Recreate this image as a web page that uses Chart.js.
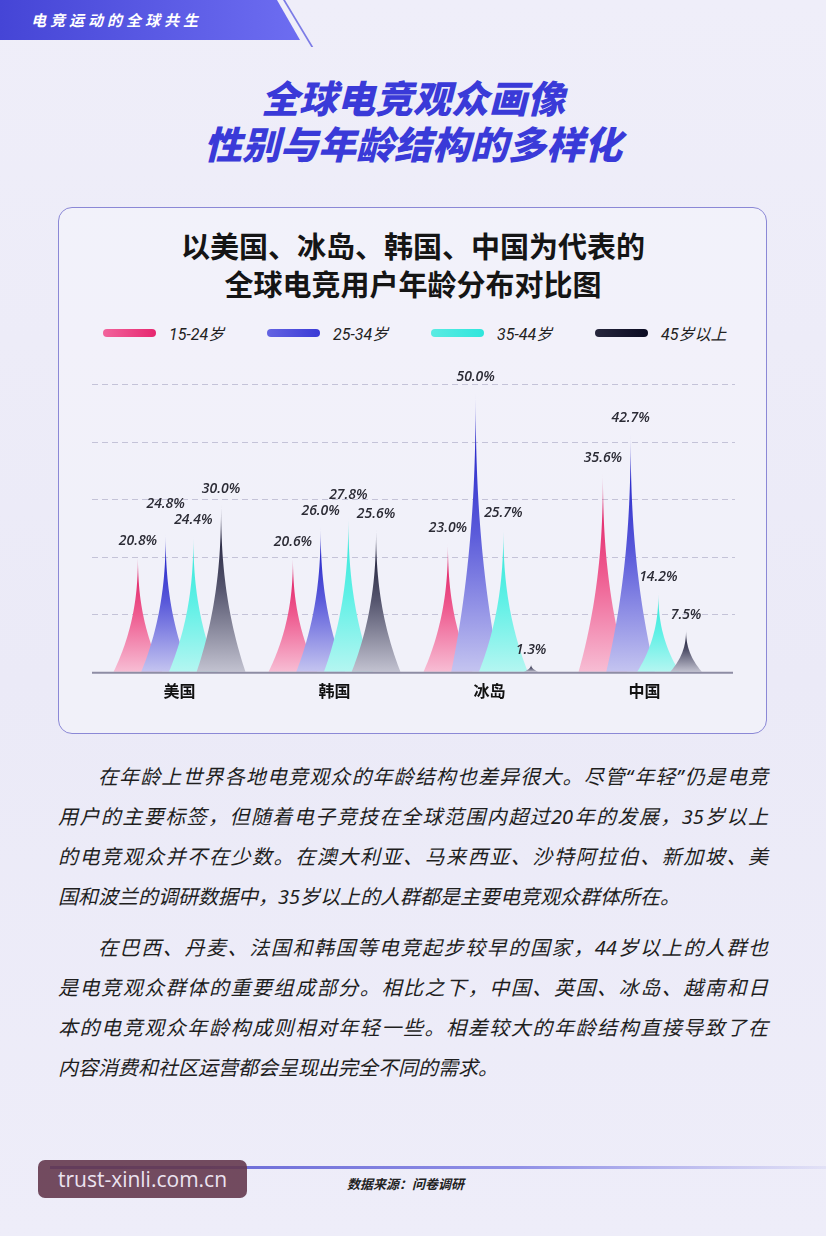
<!DOCTYPE html>
<html lang="zh-CN">
<head>
<meta charset="utf-8">
<script src="https://cdn.jsdelivr.net/npm/chart.js@4.4.0/dist/chart.umd.min.js"></script>
<style>
html, body { margin: 0; padding: 0; }
body {
    width: 826px; height: 1236px; position: relative; overflow: hidden;
    background: linear-gradient(180deg, #efeef9 0%, #ebeaf7 55%, #eeedf9 100%);
    font-family: "Noto Sans CJK SC", sans-serif;
}
.banner {
    position: absolute; left: 0; top: 0; width: 300px; height: 40px;
    background: linear-gradient(90deg, #4545d6, #6d6df1);
    clip-path: polygon(0 0, 277px 0, 300px 40px, 0 40px);
}
.banner span {
    position: absolute; left: 31px; top: 0; line-height: 40px;
    color: #fff; font-size: 15px; font-weight: 700; letter-spacing: 4px; font-style: italic;
}
.slash {
    position: absolute; left: 283px; top: 0; width: 2px; height: 47px;
    background: #7b7be6; transform: skewX(31deg); transform-origin: top left;
}
.title {
    position: absolute; left: 0; top: 74px; width: 826px; text-align: center;
    color: #3a3ad8; font-size: 38px; font-weight: 900; line-height: 46px; font-style: italic;
}
.card {
    position: absolute; left: 58px; top: 207px; width: 707px; height: 525px;
    border: 1.5px solid #8b88d6; border-radius: 14px; background: rgba(246, 245, 252, 0.55);
}
.card-title {
    position: absolute; left: 58px; top: 226px; width: 710px; text-align: center;
    color: #151515; font-size: 29px; font-weight: 700; line-height: 38px;
}
.legend { position: absolute; left: 103px; top: 322px; height: 22px; display: flex; }
.legend .item { width: 164px; display: flex; align-items: center; height: 22px; }
.legend .pill { width: 53px; height: 8px; border-radius: 4px; margin-right: 13px; }
.legend .txt { font-family: Roboto, "Noto Sans CJK SC", sans-serif; font-size: 16px; color: #222; font-style: italic; }
.chart-box { position: absolute; left: 58px; top: 360px; width: 710px; height: 360px; }
.para {
    position: absolute; left: 58px; width: 710px; font-size: 20px; color: #1e1e1e;
    font-family: "Noto Sans", "Noto Sans CJK SC", sans-serif; font-style: italic;
}
.para div { height: 40px; line-height: 40px; text-align: justify; text-align-last: justify; white-space: nowrap; }
.para div.first { text-indent: 2em; }
.para div.last { text-align-last: left; }
.footline {
    position: absolute; left: 50px; top: 1166px; width: 776px; height: 3px;
    background: linear-gradient(90deg, #5a5ad0, #8f8fe6 60%, rgba(200,200,240,0.3));
}
.mark {
    position: absolute; left: 38px; top: 1160px; width: 209px; height: 38px;
    background: rgba(100, 56, 78, 0.9); border-radius: 7px;
    color: #ebe3f0; font-family: "Open Sans", sans-serif; font-size: 21px; line-height: 38px; text-align: center;
}
.source {
    position: absolute; left: 347px; top: 1175px; font-size: 13px; font-weight: 700;
    font-style: italic; color: #222; line-height: 18px;
}
</style>
</head>
<body>
<div class="banner"><span>电竞运动的全球共生</span></div>
<div class="slash"></div>
<div class="title">全球电竞观众画像<br>性别与年龄结构的多样化</div>
<div class="card"></div>
<div class="card-title">以美国、冰岛、韩国、中国为代表的<br>全球电竞用户年龄分布对比图</div>
<div class="legend" id="legend"></div>
<div class="chart-box"><canvas id="ageChart" width="710" height="360"></canvas></div>

<div class="para" style="top:757px">
  <div class="first">在年龄上世界各地电竞观众的年龄结构也差异很大。尽管“年轻”仍是电竞</div>
  <div>用户的主要标签，但随着电子竞技在全球范围内超过20年的发展，35岁以上</div>
  <div>的电竞观众并不在少数。在澳大利亚、马来西亚、沙特阿拉伯、新加坡、美</div>
  <div class="last">国和波兰的调研数据中，35岁以上的人群都是主要电竞观众群体所在。</div>
</div>
<div class="para" style="top:928px">
  <div class="first">在巴西、丹麦、法国和韩国等电竞起步较早的国家，44岁以上的人群也</div>
  <div>是电竞观众群体的重要组成部分。相比之下，中国、英国、冰岛、越南和日</div>
  <div>本的电竞观众年龄构成则相对年轻一些。相差较大的年龄结构直接导致了在</div>
  <div class="last">内容消费和社区运营都会呈现出完全不同的需求。</div>
</div>

<div class="footline"></div>
<div class="mark">trust-xinli.com.cn</div>
<div class="source">数据来源：问卷调研</div>

<script>
const categories = ['美国', '韩国', '冰岛', '中国'];
const seriesNames = ['15-24岁', '25-34岁', '35-44岁', '45岁以上'];
const age15to24 = [20.8, 20.6, 23.0, 35.6];
const age25to34 = [24.8, 26.0, 50.0, 42.7];
const age35to44 = [24.4, 27.8, 25.7, 14.2];
const age45plus = [30.0, 25.6, 1.3, 7.5];

const legendColors = [
    ['#f2649c', '#e6276f'],
    ['#6464e2', '#3a3ad6'],
    ['#5aebe2', '#2fe6dc'],
    ['#26263c', '#0b0b22']
];
// tip, middle, base
const spikeColors = [
    ['#dc0f58', '#ee5a8f', '#f7bdd4'],
    ['#1212c2', '#5a5ada', '#c4c4f0'],
    ['#2ee6d6', '#5ff0e6', '#b4f6f1'],
    ['#0b0b25', '#55556e', '#c2c2d0']
];

const spikePlugin = {
    id: 'spikes',
    beforeDatasetsDraw(chart) {
        const { ctx, chartArea, scales: { y } } = chart;
        ctx.save();
        ctx.strokeStyle = '#c4c3d8';
        ctx.lineWidth = 1.2;
        ctx.setLineDash([6, 4]);
        y.ticks.forEach(t => {
            if (t.value <= 0) return;
            const py = Math.round(y.getPixelForValue(t.value)) + 0.5;
            ctx.beginPath();
            ctx.moveTo(chartArea.left - 10, py);
            ctx.lineTo(chartArea.right + 13, py);
            ctx.stroke();
        });
        ctx.restore();
    },
    afterDatasetsDraw(chart) {
        const { ctx, chartArea, scales: { y } } = chart;
        ctx.save();
        chart.data.datasets.forEach((ds, i) => {
            const c = spikeColors[i];
            chart.getDatasetMeta(i).data.forEach(bar => {
                const p = bar.getProps(['x', 'y', 'base', 'width'], true);
                const h = p.base - p.y;
                // small spikes get a narrower foot
                const hw = p.width * 0.88 * Math.min(1, Math.pow(h / 110, 0.45));
                const g = ctx.createLinearGradient(0, p.y, 0, p.base);
                g.addColorStop(0, c[0]);
                g.addColorStop(0.5, c[1]);
                g.addColorStop(1, c[2]);
                ctx.beginPath();
                const n = 40;
                for (let k = 0; k <= n; k++) {
                    const s = k / n;
                    const w = hw * Math.pow(1 - s, 2.3);
                    const py = p.base - s * h;
                    if (k === 0) ctx.moveTo(p.x - w, py); else ctx.lineTo(p.x - w, py);
                }
                for (let k = n; k >= 0; k--) {
                    const s = k / n;
                    const w = hw * Math.pow(1 - s, 2.3);
                    ctx.lineTo(p.x + w, p.base - s * h);
                }
                ctx.closePath();
                ctx.fillStyle = g;
                ctx.fill();
            });
        });

        // baseline
        const by = y.getPixelForValue(0) + 1;
        ctx.strokeStyle = '#8e8da4';
        ctx.lineWidth = 2;
        ctx.beginPath();
        ctx.moveTo(chartArea.left - 10, by);
        ctx.lineTo(chartArea.right + 11, by);
        ctx.stroke();

        // value labels, nudged up when two neighbours collide
        ctx.font = 'italic 600 14px "Open Sans", sans-serif';
        ctx.fillStyle = '#2b2b35';
        ctx.textAlign = 'center';
        ctx.textBaseline = 'middle';
        chart.data.labels.forEach((lab, j) => {
            const items = chart.data.datasets.map((ds, i) => {
                const bar = chart.getDatasetMeta(i).data[j];
                return { x: bar.x, y: bar.y - 15, v: ds.data[j] };
            });
            for (let k = 1; k < items.length; k++) {
                const a = items[k - 1], b = items[k];
                if (Math.abs(a.x - b.x) < 42 && Math.abs(a.y - b.y) < 16) {
                    if (b.v >= a.v) b.y = a.y - 16; else a.y = b.y - 16;
                }
            }
            items.forEach(it => ctx.fillText(it.v.toFixed(1) + '%', it.x, it.y));
        });
        ctx.restore();
    }
};

const seriesData = [age15to24, age25to34, age35to44, age45plus];
const datasets = seriesData.map((d, i) => ({
    label: seriesNames[i],
    data: d,
    backgroundColor: 'rgba(0,0,0,0)',
    borderWidth: 0,
    barPercentage: 1,
    categoryPercentage: 0.715
}));

const chart = new Chart(document.getElementById('ageChart').getContext('2d'), {
    type: 'bar',
    data: { labels: categories, datasets: datasets },
    options: {
        responsive: false,
        animation: false,
        events: [],
        layout: { padding: { left: 44, right: 46, top: 24, bottom: 9 } },
        plugins: {
            tooltip: { enabled: false },
            legend: { display: false }
        },
        scales: {
            x: {
                grid: { display: false, drawTicks: false },
                border: { display: false },
                ticks: {
                    color: '#111',
                    padding: 10,
                    font: { family: '"Noto Sans CJK SC"', size: 16, weight: 'bold' }
                }
            },
            y: {
                display: false,
                min: 0,
                max: 51.5,
                ticks: { stepSize: 10.3 }
            }
        }
    },
    plugins: [spikePlugin]
});

// html legend built from the chart's datasets
const legendEl = document.getElementById('legend');
chart.data.datasets.forEach((ds, i) => {
    const item = document.createElement('div');
    item.className = 'item';
    const pill = document.createElement('span');
    pill.className = 'pill';
    pill.style.background = 'linear-gradient(90deg,' + legendColors[i][0] + ',' + legendColors[i][1] + ')';
    const txt = document.createElement('span');
    txt.className = 'txt';
    txt.textContent = ds.label;
    item.appendChild(pill);
    item.appendChild(txt);
    legendEl.appendChild(item);
});
</script>
</body>
</html>
